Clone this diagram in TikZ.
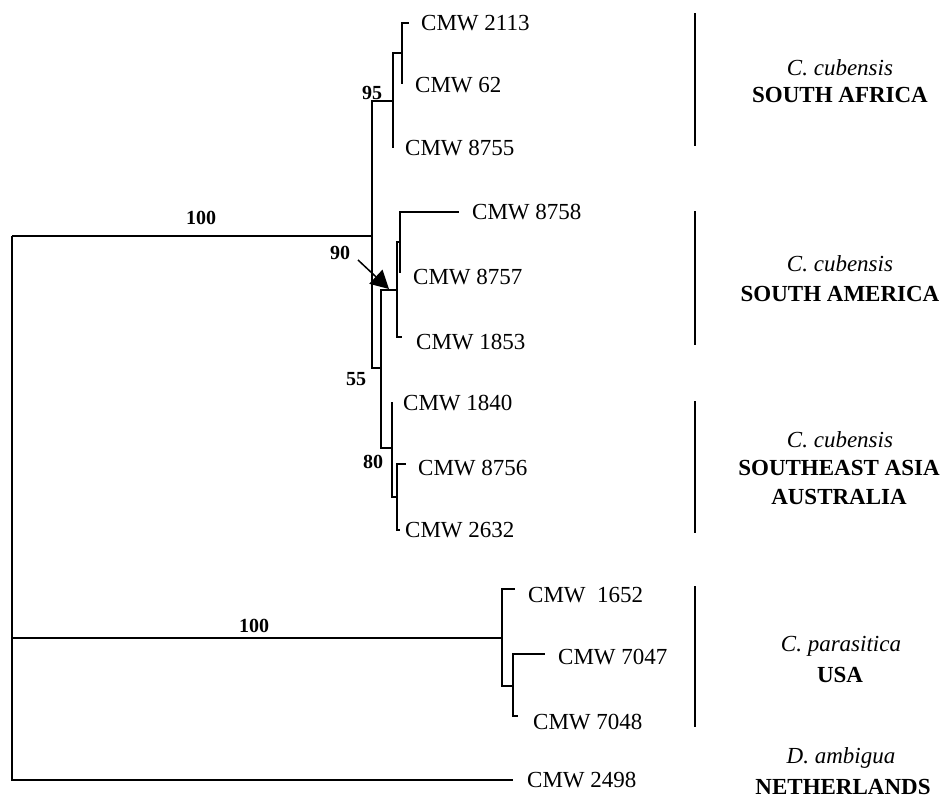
\documentclass[tikz,border=0pt]{standalone}
\usepackage{fontspec}
\setmainfont{Liberation Serif}
\usetikzlibrary{arrows.meta}
\begin{document}
\begin{tikzpicture}[x=1pt,y=-1pt,
  br/.style={line width=2.7pt},
  bar/.style={line width=2.7pt},
  tiplabel/.style={anchor=west,inner sep=0pt,font=\fontsize{23}{27}\selectfont},
  boot/.style={inner sep=0pt,font=\fontsize{20}{23}\selectfont\bfseries},
  spec/.style={inner sep=0pt,font=\fontsize{23}{27}\selectfont\itshape},
  region/.style={inner sep=0pt,font=\fontsize{23}{27}\selectfont\bfseries}]
\useasboundingbox (0,0) rectangle (945,801);
% internal nodes
\coordinate (R) at (12,236);
\coordinate (K) at (372,236);
\coordinate (A) at (393,101);
\coordinate (B) at (402,53);
\coordinate (S) at (381,368);
\coordinate (D) at (397,290);
\coordinate (C) at (400,242);
\coordinate (E) at (392,448);
\coordinate (F) at (397,497);
\coordinate (U) at (502,638);
\coordinate (H) at (513,686);
% tips
\coordinate (t2113) at (409,23);
\coordinate (t62) at (402,84);
\coordinate (t8755) at (393,148);
\coordinate (t8758) at (459,212);
\coordinate (t8757) at (400,273);
\coordinate (t1853) at (402,337);
\coordinate (t1840) at (392,402);
\coordinate (t8756) at (406,464);
\coordinate (t2632) at (400,530);
\coordinate (t1652) at (515,589);
\coordinate (t7047) at (545,654);
\coordinate (t7048) at (518,716);
\coordinate (t2498) at (513,780);
% branches
\draw[br] (R) |- (K);
\draw[br] (R) |- (U);
\draw[br] (R) |- (t2498);
\draw[br] (K) |- (A);
\draw[br] (K) |- (S);
\draw[br] (A) |- (B);
\draw[br] (A) |- (t8755);
\draw[br] (B) |- (t2113);
\draw[br] (B) |- (t62);
\draw[br] (S) |- (D);
\draw[br] (S) |- (E);
\draw[br] (D) |- (C);
\draw[br] (D) |- (t1853);
\draw[br] (C) |- (t8758);
\draw[br] (C) |- (t8757);
\draw[br] (E) |- (t1840);
\draw[br] (E) |- (F);
\draw[br] (F) |- (t8756);
\draw[br] (F) |- (t2632);
\draw[br] (U) |- (t1652);
\draw[br] (U) |- (H);
\draw[br] (H) |- (t7047);
\draw[br] (H) |- (t7048);
% tip labels
\node[tiplabel] (l2113) at (421,23) {CMW 2113};
\node[tiplabel] (l62) at (415,85) {CMW 62};
\node[tiplabel] (l8755) at (405,148) {CMW 8755};
\node[tiplabel] (l8758) at (472,212) {CMW 8758};
\node[tiplabel] (l8757) at (413,277) {CMW 8757};
\node[tiplabel] (l1853) at (416,342) {CMW 1853};
\node[tiplabel] (l1840) at (403,403) {CMW 1840};
\node[tiplabel] (l8756) at (418,468) {CMW 8756};
\node[tiplabel] (l2632) at (405,530) {CMW 2632};
\node[tiplabel] (l1652) at (528,595) {CMW\ \ 1652};
\node[tiplabel] (l7047) at (558,657) {CMW 7047};
\node[tiplabel] (l7048) at (533,722) {CMW 7048};
\node[tiplabel] (l2498) at (527,780) {CMW 2498};
% bootstrap values
\node[boot] (b100a) at (201,218) {100};
\node[boot] (b95) at (372,93) {95};
\node[boot] (b90) at (340,253) {90};
\node[boot] (b55) at (356,379) {55};
\node[boot] (b80) at (373,462) {80};
\node[boot] (b100b) at (254,626) {100};
% arrow
\coordinate (ar1) at (358,260);
\coordinate (ar2) at (389,289);
\draw[line width=1.5pt,-{Triangle[length=18pt,width=19pt]}] (ar1) -- (ar2);
% clade bars
\coordinate (g1a) at (695,13); \coordinate (g1b) at (695,146);
\coordinate (g2a) at (695,211); \coordinate (g2b) at (695,345);
\coordinate (g3a) at (695,401); \coordinate (g3b) at (695,533);
\coordinate (g4a) at (695,586); \coordinate (g4b) at (695,727);
\draw[bar] (g1a) -- (g1b);
\draw[bar] (g2a) -- (g2b);
\draw[bar] (g3a) -- (g3b);
\draw[bar] (g4a) -- (g4b);
% clade labels
\node[spec] (s1) at (840,68) {C. cubensis};
\node[region] (r1) at (840,95) {SOUTH AFRICA};
\node[spec] (s2) at (840,264) {C. cubensis};
\node[region] (r2) at (840,294) {SOUTH AMERICA};
\node[spec] (s3) at (840,440) {C. cubensis};
\node[region] (r3a) at (839,468) {SOUTHEAST ASIA};
\node[region] (r3b) at (839,497) {AUSTRALIA};
\node[spec] (s4) at (841,646) {C. parasitica};
\node[region] (r4) at (840,675) {USA};
\node[spec] (s5) at (841,758) {D. ambigua};
\node[region] (r5) at (843,787) {NETHERLANDS};
\end{tikzpicture}
\end{document}
